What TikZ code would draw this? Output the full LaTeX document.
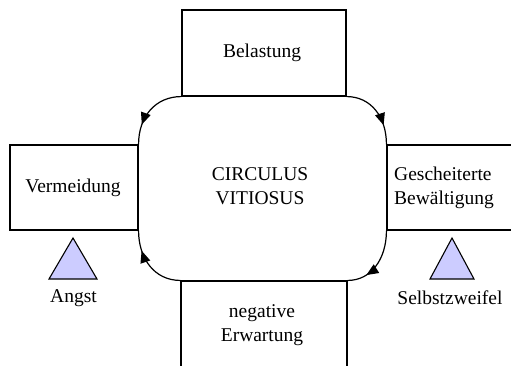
\documentclass[tikz,border=0pt]{standalone}
\usepackage{fontspec}
\setmainfont{Liberation Serif}
\usetikzlibrary{arrows.meta,decorations.markings}
\begin{document}
\begin{tikzpicture}[x=1pt,y=-1pt,
  every node/.style={font=\fontsize{19.5}{24}\selectfont},
  box/.style={draw,line width=1.1pt,inner sep=0pt,align=center},
  txt/.style={inner sep=0pt,align=center},
  tri/.style={draw,line width=1.1pt,fill={rgb,255:red,204;green,204;blue,255},line join=miter},
  loop/.style={line width=1.2pt,postaction={decorate},
    decoration={markings,mark=at position 0.72 with {\arrow{Triangle[length=12pt,width=10pt]}}}}]
\useasboundingbox (0,0) rectangle (511,365);
\clip (0,0) rectangle (511,365);
% boxes
\node[box,minimum width=164pt,minimum height=86pt] (top) at (264,53) {};
\node[box,minimum width=128pt,minimum height=85pt] (left) at (74,187.5) {};
\node[box,minimum width=130pt,minimum height=85pt] (right) at (452,187.5) {};
\node[box,minimum width=166pt,minimum height=90pt] (bottom) at (264,326) {};
% texts
\node[txt] (tBel) at (262,53) {Belastung};
\node[txt] (tVer) at (73,188) {Vermeidung};
\node[txt,align=left] (tGes) at (444,188) {Gescheiterte\\Bewältigung};
\node[txt] (tNeg) at (262,325) {negative\\Erwartung};
\node[txt] (tCirc) at (260,186) {CIRCULUS\\VITIOSUS};
% connectors
\draw[loop] (top.south west) .. controls +(-26,0) and +(0,-28) .. (left.north east);
\draw[loop] (top.south east) .. controls +(24,0) and +(0,-28) .. (right.north west);
\draw[loop] (right.south west) .. controls +(0,28) and +(24,0) .. (bottom.north east);
\draw[loop] (bottom.north west) .. controls +(-26,0) and +(0,28) .. (left.south east);
% triangles
\coordinate (aA) at (73,238);
\coordinate (aB) at (49,279);
\coordinate (aC) at (97,279);
\draw[tri] (aA) -- (aB) -- (aC) -- cycle;
\coordinate (bA) at (452,238);
\coordinate (bB) at (430,279);
\coordinate (bC) at (474,279);
\draw[tri] (bA) -- (bB) -- (bC) -- cycle;
\node[txt] (tAng) at (73.5,298) {Angst};
\node[txt] (tSel) at (450,298) {Selbstzweifel};
\end{tikzpicture}
\end{document}
